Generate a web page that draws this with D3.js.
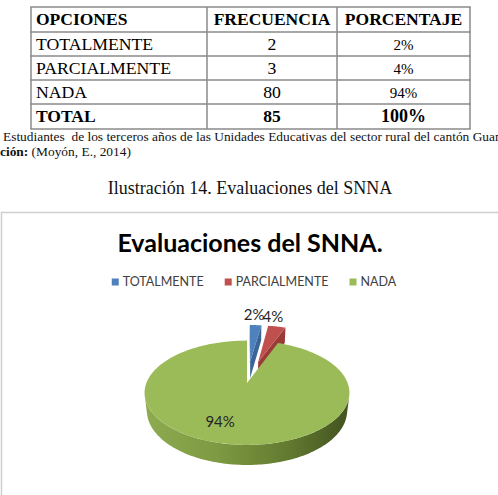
<!DOCTYPE html>
<html>
<head>
<meta charset="utf-8">
<script src="https://cdn.jsdelivr.net/npm/d3@7"></script>
<style>
  html, body { margin: 0; padding: 0; background: #fff; }
  svg { display: block; }
</style>
</head>
<body>
<div id="chart"></div>
<script>
// ---------------- DATA ----------------
const tableHeaders = ["OPCIONES", "FRECUENCIA", "PORCENTAJE"];
const options = ["TOTALMENTE", "PARCIALMENTE", "NADA"];
const frequencies = [2, 3, 80];
const percentLabels = ["2%", "4%", "94%"];
const totalRow = ["TOTAL", "85", "100%"];
const sourceLine = "Estudiantes  de los terceros años de las Unidades Educativas del sector rural del cantón Guano";
const authorBold = "ción:";
const authorText = " (Moyón, E., 2014)";
const captionText = "Ilustración 14. Evaluaciones del SNNA";
const chartTitle = "Evaluaciones del SNNA.";

// ---------------- STYLE ----------------
const W = 498, H = 495;
const sliceColors = ["#4F81BD", "#C0504D", "#9BBB59"];
const sideColors = ["#3b6598", "#9a3b38", "#7a963f"];
const explodeAmt = [0.47, 0.47, 0];

const svg = d3.select("#chart").append("svg")
  .attr("width", W).attr("height", H)
  .attr("viewBox", `0 0 ${W} ${H}`);
svg.append("rect").attr("width", W).attr("height", H).attr("fill", "#fff");

// ---------------- TABLE ----------------
const serif = "'Liberation Serif', 'Times New Roman', serif";
const colX = d3.scaleOrdinal().domain([0, 1, 2, 3]).range([31, 207, 337, 470]);
const rowY = d3.scaleOrdinal().domain([0, 1, 2, 3, 4, 5]).range([7, 32, 56, 80, 104, 129]);
const tbl = svg.append("g");
const bStroke = "#8a8a8a";
[0, 1, 2, 3, 4, 5].forEach(r => {
  tbl.append("line").attr("x1", colX(0) - 0.75).attr("x2", colX(3) + 0.75)
    .attr("y1", rowY(r)).attr("y2", rowY(r))
    .attr("stroke", bStroke).attr("stroke-width", 1.5);
});
[0, 1, 2, 3].forEach(c => {
  tbl.append("line").attr("x1", colX(c)).attr("x2", colX(c))
    .attr("y1", rowY(0)).attr("y2", rowY(5))
    .attr("stroke", bStroke).attr("stroke-width", 1.5);
});
const rows = [tableHeaders,
  ...options.map((o, i) => [o, String(frequencies[i]), percentLabels[i]]),
  totalRow];
const baseOff = 18;
rows.forEach((row, r) => {
  const bold = (r === 0 || r === rows.length - 1);
  const y = rowY(r) + baseOff;
  row.forEach((txt, c) => {
    let x, anchor, size = bold ? 17.5 : 17.7;
    if (c === 0) { x = colX(0) + 5; anchor = "start"; }
    else { x = (colX(c) + colX(c + 1)) / 2; anchor = "middle"; }
    if (c === 2 && !bold) size = 15;
    if (c === 2 && r === rows.length - 1) size = 18;
    tbl.append("text").attr("x", x).attr("y", y)
      .attr("text-anchor", anchor)
      .attr("font-family", serif)
      .attr("font-size", size)
      .attr("font-weight", bold ? "bold" : "normal")
      .attr("fill", "#000")
      .text(txt);
  });
});

// source lines
svg.append("text").attr("x", 3).attr("y", 141)
  .attr("font-family", serif).attr("font-size", 13.4).attr("fill", "#111")
  .attr("xml:space", "preserve")
  .text(sourceLine);
const t2 = svg.append("text").attr("x", 0).attr("y", 156)
  .attr("font-family", serif).attr("font-size", 13.4).attr("fill", "#111");
t2.append("tspan").attr("font-weight", "bold").text(authorBold);
t2.append("tspan").text(authorText);

// caption
svg.append("text").attr("x", 250).attr("y", 194)
  .attr("text-anchor", "middle")
  .attr("font-family", serif).attr("font-size", 18).attr("fill", "#111")
  .text(captionText);

// ---------------- CHART BOX ----------------
svg.append("rect").attr("x", 1.5).attr("y", 212.5)
  .attr("width", 700).attr("height", 500)
  .attr("fill", "#fff").attr("stroke", "#cfcfcf").attr("stroke-width", 1.5);

const sans = "Lato, 'Open Sans', sans-serif";
svg.append("text").attr("x", 250).attr("y", 252)
  .attr("text-anchor", "middle")
  .attr("font-family", sans).attr("font-weight", "bold")
  .attr("font-size", 25).attr("fill", "#000")
  .text(chartTitle);

// legend (flow layout)
const legend = svg.append("g");
let lx = 0;
options.forEach((o, i) => {
  const g = legend.append("g");
  g.append("rect").attr("x", lx).attr("y", -7.5).attr("width", 7).attr("height", 7)
    .attr("fill", sliceColors[i]);
  const t = g.append("text").attr("x", lx + 11).attr("y", 0)
    .attr("font-family", sans).attr("font-size", 12.5).attr("fill", "#404040")
    .text(o);
  const w = t.node().getComputedTextLength();
  lx += 11 + w + 21;
});
const legendW = lx - 21;
legend.attr("transform", `translate(${254 - legendW / 2}, 286)`);

// ---------------- 3D PIE ----------------
const cx = 247, cy0 = 383;
const phi = 30 * Math.PI / 180;
const Dcam = 4.63, F = 466, hgt = 0.2085;
function proj(x, y, z) {
  const depth = Dcam + z * Math.cos(phi) - y * Math.sin(phi);
  const up = y * Math.cos(phi) + z * Math.sin(phi);
  return [cx + F * x / depth, cy0 - F * up / depth];
}
const arcs = d3.pie().sort(null).value(d => d)(frequencies);
arcs.forEach((a, i) => {
  const mid = (a.startAngle + a.endAngle) / 2;
  a.ox = explodeAmt[i] * Math.sin(mid);
  a.oz = explodeAmt[i] * Math.cos(mid);
  a.mid = mid;
});
function pt(a, th, r, y) {
  return proj(r * Math.sin(th) + a.ox, y, r * Math.cos(th) + a.oz);
}
function rimPts(a, t0, t1, y) {
  const n = Math.max(2, Math.ceil(Math.abs(t1 - t0) / 0.02));
  return d3.range(n + 1).map(k => pt(a, t0 + (t1 - t0) * k / n, 1, y));
}
const line = d3.line();
const pieG = svg.append("g");

function drawCutFace(a, th, color) {
  const poly = [pt(a, th, 0, 0), pt(a, th, 1, 0), pt(a, th, 1, -hgt), pt(a, th, 0, -hgt)];
  pieG.append("path").attr("d", line(poly) + "Z").attr("fill", color);
}
function drawTop(a, color) {
  const poly = [pt(a, 0, 0, 0), ...rimPts(a, a.startAngle, a.endAngle, 0)];
  pieG.append("path").attr("d", line(poly) + "Z").attr("fill", color);
}

// blue (back)
drawCutFace(arcs[0], arcs[0].startAngle, sideColors[0]);
drawCutFace(arcs[0], arcs[0].endAngle, sideColors[0]);
drawTop(arcs[0], sliceColors[0]);
// red
drawCutFace(arcs[1], arcs[1].endAngle, sideColors[1]);
drawTop(arcs[1], sliceColors[1]);

// green side wall (visible rim portion)
const thr = Math.acos(-1 / (Dcam * Math.cos(phi)));
const s0 = Math.max(arcs[2].startAngle, thr), s1 = Math.min(arcs[2].endAngle, 2 * Math.PI - thr);
const sidePoly = [...rimPts(arcs[2], s0, s1, 0), ...rimPts(arcs[2], s1, s0, -hgt)];
const defs = svg.append("defs");
const xs = sidePoly.map(p => p[0]);
const grad = defs.append("linearGradient").attr("id", "gside")
  .attr("gradientUnits", "userSpaceOnUse")
  .attr("x1", d3.min(xs)).attr("x2", d3.max(xs)).attr("y1", 0).attr("y2", 0);
[[0, "#8fab50"], [0.35, "#7e9a42"], [0.7, "#627a30"], [1, "#43521f"]].forEach(([o, c]) =>
  grad.append("stop").attr("offset", o).attr("stop-color", c));
pieG.append("path").attr("d", line(sidePoly) + "Z").attr("fill", "url(#gside)");
drawTop(arcs[2], sliceColors[2]);

// data labels
const labelFont = { size: 15, color: "#262626" };
const labelPos = [
  () => { const p = pt(arcs[0], arcs[0].mid, 1, 0); return [p[0] - 1.5, p[1] - 5]; },
  () => { const p = pt(arcs[1], arcs[1].mid, 1, 0); return [p[0] - 4, p[1] - 5]; },
  () => { const p = pt(arcs[2], arcs[2].mid, 0.7, 0); return [p[0] - 12, p[1] + 4.5]; }
];
percentLabels.forEach((lab, i) => {
  const [x, y] = labelPos[i]();
  svg.append("text").attr("x", x).attr("y", y)
    .attr("text-anchor", "middle")
    .attr("font-family", sans).attr("font-size", labelFont.size)
    .attr("fill", labelFont.color)
    .text(lab);
});
</script>
</body>
</html>
